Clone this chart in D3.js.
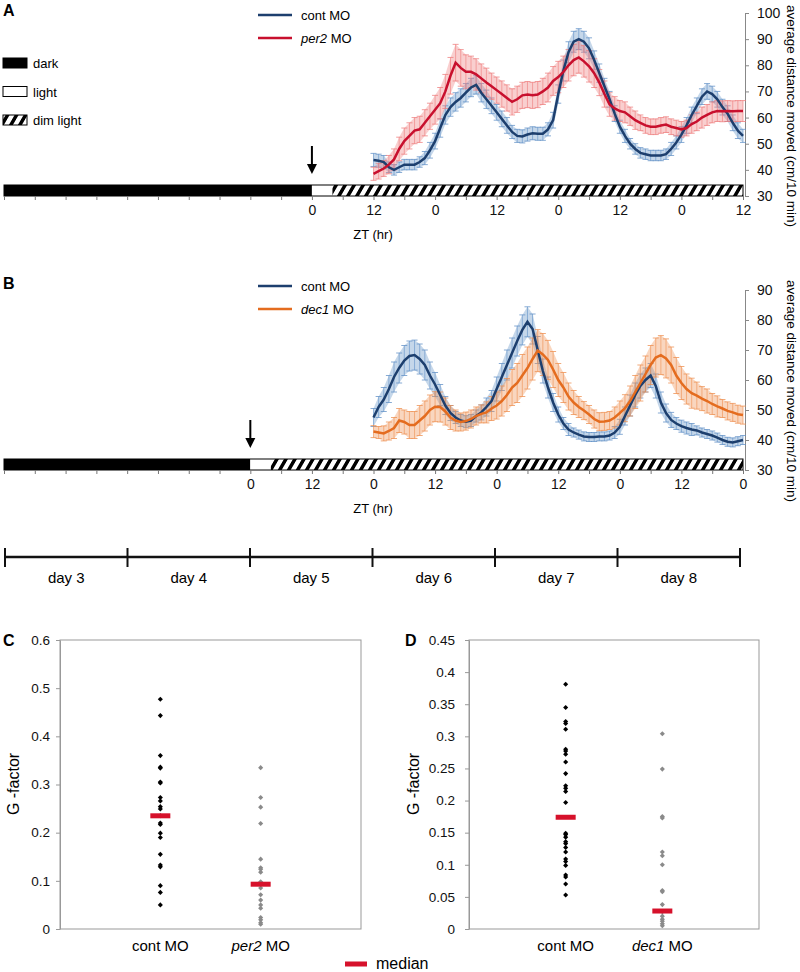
<!DOCTYPE html>
<html>
<head>
<meta charset="utf-8">
<script src="https://cdn.jsdelivr.net/npm/d3@7"></script>
<style>
body { margin: 0; background: #fff; }
text { font-family: "Liberation Sans", Arial, sans-serif; }
</style>
</head>
<body>
<div id="chart"></div>
<script>
/* ACTIVITY RECORDINGS + G-FACTOR SCATTER */

// ---- data: panel A (hourly, ZT 12 .. 84) ----
var startA = 12;
var contA = [43.8,43.5,43,41,40,41,42,42,42,43,44.5,47.5,
             51,56,61,64,66,67.5,69.5,71.5,72.5,69.5,67,64.5,
             62,59.5,57,54.5,53,52.8,53.5,54,53.8,53.8,55.5,59,
             69,78,85,89,90,89,86.5,82,77,72,67,61.5,
             56.5,53,50,48,46.5,46,45.5,45.5,45.5,46,48,50.5,
             53.5,57,61,64.5,68,70,69,67,64,61.5,58,55,
             53];
var contAsem = [2.5,2.5,2.5,2,2,2,2,2,2,2,2.5,3,
                3,3.5,3.5,3.5,3.5,3.5,3.5,3.5,3.5,3.5,3.5,3,
                3,3,3,2.5,2.5,2.5,2.5,2.5,2.5,2.5,2.5,3,
                3.5,4,4,4,4,4,4,3.5,3.5,3,3,3,
                2.5,2.5,2,2,2,2,2,2,2,2,2.5,2.5,
                3,3,3,3,3,3,3,3,3,3,3,3,
                2.5];
var per2A = [38.5,39.5,40.5,42,44,48,51,53,55,55.5,58,60.5,
             63,65.5,70,76,81,79,77.5,77.5,76.5,75,73.4,72,
             70.5,69,67.5,66,67,68.5,68.8,68.5,68.8,70,71.5,74,
             75.5,77.5,80,82,83,81.5,79.6,77,73.4,69,65,63.5,
             62.5,62,60.5,59,58,57,56.5,56.5,57,57.3,56.5,56,
             55.5,56,57.5,58.5,60,61,62,62.5,62.4,62.5,62.4,62.5,
             62.5];
var per2Asem = [2.5,3,3,3.5,4,4.5,5,5,5,5,5,5,
                5.5,6,6.5,7,7,7,6.5,6,6,5.5,5.5,5,
                5,5,5,5,5,5,5,5,5,5,5.5,5.5,
                6,6,6,6,6,6,6,5.5,5,5,4.5,4.5,
                4,4,3.5,3.5,3,3,3,3,3,3,3,3,
                3,3,3.5,3.5,4,4,4,4,4,4,4,4,
                4];

// ---- data: panel B (hourly, ZT 24 .. 96) ----
var startB = 24;
var contB = [47.5,51,53.5,57,61,64,66.5,68,68.3,67,65,61.5,
             58.5,55,51.5,49,47.5,46.5,46.1,46.5,48,49.2,51,53,
             57,61,65,69,73,76.7,79.4,77,70,63,57.5,52.5,
             48.5,45.5,43.5,42.5,41.8,41.2,41,41,41.2,41.2,41.5,42.5,
             44.4,48,51.5,55,58,60,61.5,58,52.5,49,46.7,45.5,
             44.6,44,43.5,43.2,42.5,42,41.5,40.8,40,39.4,39.2,39.6,
             40];
var contBsem = [3,3.5,4,4.5,5,5,5,5,5,5,5,4.5,
                4,3.5,3,2.5,2,2,2,2,2,2.5,3,3.5,
                4,4.5,5,5,5,5,5,5,4.5,4,3.5,3,
                2.5,2,2,1.5,1.5,1.5,1.5,1.5,1.5,1.5,1.5,2,
                2.5,3,3.5,4,4,4,4,4,3.5,3,2.5,2,
                2,2,2,1.5,1.5,1.5,1.5,1.5,1.5,1.5,1.5,1.5,
                1.5];
var dec1B = [42.8,42.5,42.2,43,44,46.5,46,45,45,46.5,48,50,
             51.1,51,49.5,47.5,46.5,46,46.3,47,48,48.7,49.2,50.5,
             51.5,53,55,57.5,59,61.5,64,67,69.8,68.5,66.7,63.5,
             60,57.5,54.5,52.5,51,49.8,48.5,47,46.1,46.2,46.5,47.5,
             49,50.6,53,56,59,62,65,67.5,68.3,67.2,65,61.5,
             59,57,55.6,54.8,53.8,53,52,51.2,50.5,49.7,49.2,48.6,
             48.3];
var dec1Bsem = [2,2,2.5,3,3.5,4,4,4.5,4.5,5,5,5,
                5,5,4.5,4,3.5,3,3,3,3,3,3.5,4,
                4.5,5,5.5,6,6.5,7,7,7,7,7,6.5,6,
                5.5,5,4.5,4,3.5,3,3,3,3,3,3,3.5,
                4,4.5,5,5.5,6,6,6.5,6.5,6.5,6.5,6,6,
                5.5,5,5,4.5,4,4,3.5,3.5,3,3,3,3,
                3];

// light regime segments [type, from ZT, to ZT]
var lightA = [["dark",-60,0],["light",0,4],["dim",4,84]];
var lightB = [["dark",-48,0],["light",0,4],["dim",4,96]];
var lightLegend = [["dark","dark"],["light","light"],["dim","dim light"]];

var days = ["day 3","day 4","day 5","day 6","day 7","day 8"];

// ---- data: G-factor ----
var groupsC = ["cont MO","per2 MO"];
var contC = [0.477,0.443,0.36,0.336,0.334,0.305,0.303,0.273,0.266,0.254,0.249,0.235,
             0.22,0.217,0.199,0.19,0.155,0.133,0.129,0.09,0.076,0.05];
var per2C = [0.335,0.273,0.253,0.219,0.145,0.127,0.124,0.118,0.098,0.085,0.071,0.06,
             0.05,0.043,0.024,0.019,0.013,0.01];
var medianC = [0.235,0.093];
var ticksC = [0,0.1,0.2,0.3,0.4,0.5,0.6];

var groupsD = ["cont MO","dec1 MO"];
var contD = [0.381,0.345,0.323,0.32,0.311,0.28,0.277,0.272,0.26,0.242,0.223,0.219,0.214,
             0.197,0.149,0.147,0.143,0.136,0.133,0.127,0.12,0.109,0.105,0.099,0.084,0.081,
             0.07,0.053];
var dec1D = [0.304,0.249,0.175,0.173,0.12,0.114,0.1,0.06,0.058,0.038,0.027,0.02,0.015,
             0.012,0.008,0.005];
var medianD = [0.174,0.028];
var ticksD = [0,0.05,0.1,0.15,0.2,0.25,0.3,0.35,0.4,0.45];

// ---- svg ----
var svg = d3.select("#chart").append("svg")
    .attr("width", 800).attr("height", 972);

var hatch = svg.append("defs").append("pattern")
    .attr("id", "hatch")
    .attr("patternUnits", "userSpaceOnUse")
    .attr("width", 9).attr("height", 12)
    .attr("patternTransform", "skewX(-30)");
hatch.append("rect").attr("width", 9).attr("height", 12).attr("fill", "#fff");
hatch.append("rect").attr("width", 4).attr("height", 12).attr("fill", "#000");

var fills = {dark: "#000", light: "#fff", dim: "url(#hatch)"};

function panelLetter(t, x, y) {
  svg.append("text").attr("x", x).attr("y", y)
    .attr("font-size", 16).attr("font-weight", "bold").text(t);
}

function moLabel(sel, name) {
  sel.append("tspan").attr("font-style", "italic").text(name);
  sel.append("tspan").text(" MO");
}

// activity panel (A / B)
function activity(p) {
  var g = svg.append("g");
  var x = d3.scaleLinear().domain(p.zt).range([4, 743]);
  var y = d3.scaleLinear().domain(p.yDom).range([p.yBottom, p.yTop]);

  // light bar
  g.selectAll("rect.seg").data(p.light).enter().append("rect")
    .attr("x", function(d) { return x(d[1]); })
    .attr("width", function(d) { return x(d[2]) - x(d[1]); })
    .attr("y", p.barY).attr("height", p.barH)
    .attr("fill", function(d) { return fills[d[0]]; });
  g.append("rect")
    .attr("x", x(p.zt[0])).attr("width", x(p.zt[1]) - x(p.zt[0]))
    .attr("y", p.barY).attr("height", p.barH)
    .attr("fill", "none").attr("stroke", "#000").attr("stroke-width", 1);

  // ZT axis
  var xAxis = g.append("g")
    .attr("transform", "translate(0," + (p.barY + p.barH) + ")")
    .call(d3.axisBottom(x)
      .tickValues(d3.range(p.zt[0], p.zt[1] + 1, 6))
      .tickSize(4).tickPadding(5)
      .tickFormat(function(d) { return (d >= 0 && d % 12 === 0) ? d % 24 : ""; }));
  xAxis.select(".domain").remove();
  xAxis.selectAll("line").attr("stroke", "#777");
  xAxis.selectAll("text").attr("font-size", 14).attr("fill", "#111")
    .attr("font-family", "Liberation Sans, Arial, sans-serif");
  g.append("text").attr("x", 373).attr("y", p.barY + p.barH + 43)
    .attr("text-anchor", "middle").attr("font-size", 13).text("ZT (hr)");

  // y axis on the right
  var yAxis = g.append("g")
    .attr("transform", "translate(745,0)")
    .call(d3.axisRight(y).ticks(p.yTicks).tickSize(4).tickSizeOuter(0).tickPadding(8));
  yAxis.select(".domain").attr("stroke", "#888");
  yAxis.selectAll("line").attr("stroke", "#888");
  yAxis.selectAll("text").attr("font-size", 14).attr("fill", "#111")
    .attr("font-family", "Liberation Sans, Arial, sans-serif");
  g.append("text")
    .attr("transform", "translate(787," + p.titleY + ") rotate(90)")
    .attr("text-anchor", "middle").attr("font-size", 13.5)
    .text("average distance moved  (cm/10 min)");

  // arrow at lights-on
  var ax = x(0);
  g.append("line").attr("x1", ax).attr("x2", ax)
    .attr("y1", p.barY - 39).attr("y2", p.barY - 20)
    .attr("stroke", "#000").attr("stroke-width", 2);
  g.append("path")
    .attr("d", "M" + (ax - 5) + "," + (p.barY - 21) + "L" + (ax + 5) + "," + (p.barY - 21) +
               "L" + ax + "," + (p.barY - 11) + "Z")
    .attr("fill", "#000");

  // series: error bars first, then lines
  var all = p.series.map(function(s) {
    return s.mean.map(function(m, i) { return {t: p.start + i, m: m, e: s.sem[i]}; });
  });
  p.series.forEach(function(s, k) {
    var pts = all[k];
    var eb = g.append("g");
    eb.append("path").datum(pts)
      .attr("d", d3.area()
        .x(function(d) { return x(d.t); })
        .y0(function(d) { return y(d.m - d.e); })
        .y1(function(d) { return y(d.m + d.e); }))
      .attr("fill", s.err).attr("fill-opacity", 0.36);
    eb.selectAll("line.v").data(pts).enter().append("line")
      .attr("x1", function(d) { return x(d.t); })
      .attr("x2", function(d) { return x(d.t); })
      .attr("y1", function(d) { return y(d.m - d.e); })
      .attr("y2", function(d) { return y(d.m + d.e); })
      .attr("stroke", s.err).attr("stroke-opacity", 0.6);
    [-1, 1].forEach(function(sign) {
      eb.selectAll("line.c" + sign).data(pts).enter().append("line")
        .attr("x1", function(d) { return x(d.t) - 3; })
        .attr("x2", function(d) { return x(d.t) + 3; })
        .attr("y1", function(d) { return y(d.m + sign * d.e); })
        .attr("y2", function(d) { return y(d.m + sign * d.e); })
        .attr("stroke", s.err).attr("stroke-opacity", 0.75);
    });
  });
  p.series.forEach(function(s, k) {
    g.append("path").datum(all[k])
      .attr("d", d3.line().x(function(d) { return x(d.t); }).y(function(d) { return y(d.m); }))
      .attr("fill", "none").attr("stroke", s.color).attr("stroke-width", 2.5);
  });

  // legend
  p.series.forEach(function(s, k) {
    var ly = p.legY + k * 23;
    g.append("line").attr("x1", 258).attr("x2", 292).attr("y1", ly).attr("y2", ly)
      .attr("stroke", s.color).attr("stroke-width", 2.5);
    var t = g.append("text").attr("x", 301).attr("y", ly + 5).attr("font-size", 13);
    if (s.italic) moLabel(t, s.italic); else t.text(s.name);
  });
}

// panel A
panelLetter("A", 3, 16);
activity({
  zt: [-60, 84], yDom: [30, 100], yTop: 13, yBottom: 196, yTicks: 7,
  barY: 185, barH: 11, light: lightA, start: startA, legY: 15, titleY: 116,
  series: [
    {name: "cont MO", mean: contA, sem: contAsem, color: "#1d3f6e", err: "#5f8fc6"},
    {italic: "per2", mean: per2A, sem: per2Asem, color: "#c8102e", err: "#ee7b7b"}
  ]
});

// light legend
lightLegend.forEach(function(d, i) {
  var ly = 58 + i * 28.5;
  svg.append("rect").attr("x", 3).attr("y", ly).attr("width", 24).attr("height", 10)
    .attr("fill", fills[d[0]]).attr("stroke", "#000").attr("stroke-width", 1);
  svg.append("text").attr("x", 33).attr("y", ly + 10).attr("font-size", 13).text(d[1]);
});

// panel B
panelLetter("B", 3, 289);
activity({
  zt: [-48, 96], yDom: [30, 90], yTop: 290, yBottom: 470, yTicks: 6,
  barY: 459, barH: 11, light: lightB, start: startB, legY: 286, titleY: 391,
  series: [
    {name: "cont MO", mean: contB, sem: contBsem, color: "#1d3f6e", err: "#5f8fc6"},
    {italic: "dec1", mean: dec1B, sem: dec1Bsem, color: "#e46c1f", err: "#ee8d4e"}
  ]
});

// day axis
var xDay = d3.scaleBand().domain(days).range([5, 740]);
var dayG = svg.append("g");
dayG.append("line").attr("x1", 5).attr("x2", 740).attr("y1", 557).attr("y2", 557)
  .attr("stroke", "#111").attr("stroke-width", 2.5);
dayG.selectAll("line.t").data(days.concat(["end"])).enter().append("line")
  .attr("x1", function(d) { return d === "end" ? 740 : xDay(d); })
  .attr("x2", function(d) { return d === "end" ? 740 : xDay(d); })
  .attr("y1", 548).attr("y2", 567)
  .attr("stroke", "#111").attr("stroke-width", 2);
dayG.selectAll("text").data(days).enter().append("text")
  .attr("x", function(d) { return xDay(d) + xDay.bandwidth() / 2; })
  .attr("y", 583).attr("text-anchor", "middle")
  .attr("font-family", "'Liberation Sans Narrow', 'Arial Narrow', sans-serif")
  .attr("font-size", 15).text(function(d) { return d; });

// scatter panels (C / D)
function scatter(p) {
  var g = svg.append("g");
  var x = d3.scaleLinear().domain([0, 3]).range([p.left, p.right]);
  var y = d3.scaleLinear().domain([0, p.ticks[p.ticks.length - 1]]).range([929, 640]);

  g.append("rect").attr("x", p.left).attr("y", 640)
    .attr("width", p.right - p.left).attr("height", 289)
    .attr("fill", "none").attr("stroke", "#999");

  var ya = g.append("g").attr("transform", "translate(" + p.left + ",0)")
    .call(d3.axisLeft(y).tickValues(p.ticks).tickSize(4).tickSizeOuter(0)
      .tickPadding(p.pad).tickFormat(function(d) { return d === 0 ? "0" : d; }));
  ya.select(".domain").attr("stroke", "#999");
  ya.selectAll("line").attr("stroke", "#999");
  ya.selectAll("text").attr("font-size", 13.5).attr("fill", "#111")
    .attr("font-family", "'Open Sans', sans-serif");

  g.append("text")
    .attr("transform", "translate(" + p.labelX + ",784) rotate(-90)")
    .attr("text-anchor", "middle").attr("font-size", 16)
    .attr("font-family", "'Open Sans', sans-serif").text("G -factor");

  var sets = [{pos: 1, vals: p.cont, color: "#000"}, {pos: 2, vals: p.mo, color: "#8a8a8a"}];
  sets.forEach(function(s) {
    g.selectAll(null).data(s.vals).enter().append("path")
      .attr("d", d3.symbol().type(d3.symbolSquare).size(13))
      .attr("transform", function(d) {
        return "translate(" + x(s.pos) + "," + y(d) + ") rotate(45)";
      })
      .attr("fill", s.color);
  });
  g.selectAll("rect.med").data(p.median).enter().append("rect")
    .attr("x", function(d, i) { return x(i + 1) - 10; })
    .attr("y", function(d) { return y(d) - 2.5; })
    .attr("width", 20).attr("height", 5)
    .attr("fill", "#d6112b");

  p.groups.forEach(function(name, i) {
    var t = g.append("text").attr("x", x(i + 1)).attr("y", 951)
      .attr("text-anchor", "middle").attr("font-size", 15)
      .attr("font-family", "'Open Sans', sans-serif");
    if (i === 0) t.text(name); else moLabel(t, name.split(" ")[0]);
  });
}

panelLetter("C", 3, 646);
scatter({left: 60, right: 361, ticks: ticksC, pad: 6, labelX: 19, cont: contC, mo: per2C,
         median: medianC, groups: groupsC});
panelLetter("D", 405, 646);
scatter({left: 469, right: 759, ticks: ticksD, pad: 10, labelX: 419, cont: contD, mo: dec1D,
         median: medianD, groups: groupsD});

// median legend
svg.append("rect").attr("x", 345).attr("y", 961.5).attr("width", 22).attr("height", 5)
  .attr("fill", "#d6112b");
svg.append("text").attr("x", 376).attr("y", 969).attr("font-size", 16).text("median");
</script>
</body>
</html>
